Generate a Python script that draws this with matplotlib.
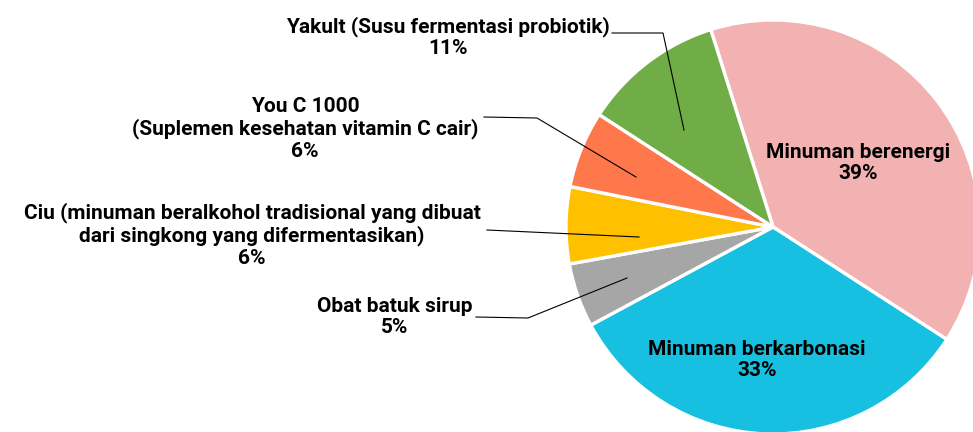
import matplotlib
matplotlib.use("Agg")
import matplotlib.pyplot as plt

plt.rcParams['font.family'] = ['Roboto', 'DejaVu Sans']

labels = ["Minuman berenergi", "Minuman berkarbonasi", "Obat batuk sirup",
          "Ciu (minuman beralkohol tradisional yang dibuat\ndari singkong yang difermentasikan)",
          "You C 1000\n(Suplemen kesehatan vitamin C cair)",
          "Yakult (Susu fermentasi probiotik)"]
values = [39, 33, 5, 6, 6, 11]
colors = ["#F2B2B2", "#17C0E0", "#A6A6A6", "#FFC000", "#FF784B", "#70AD47"]

W, H = 973, 432
fig = plt.figure(figsize=(W / 100, H / 100), dpi=100)
ax = fig.add_axes([0, 0, 1, 1])

# work in pixel coordinates, y measured from the top
def p(x, y):
    return (x, H - y)

ax.pie(values, colors=colors, startangle=107.5, counterclock=False,
       center=p(773, 227), radius=207,
       wedgeprops=dict(edgecolor="white", linewidth=2.4))
ax.set_xlim(0, W)
ax.set_ylim(0, H)
ax.set_aspect("auto")
ax.axis("off")

fs = 15
# labels inside the big slices
inside = {0: (858, 163), 1: (757, 360)}
for i, (x, y) in inside.items():
    ax.text(*p(x, y), f"{labels[i]}\n{values[i]}%", ha="center", va="center",
            fontsize=fs, fontweight="bold", linespacing=1.15)

# outside labels with leader lines
outside = {
    5: ((448, 37), [(612, 33), (663, 33), (684, 130)]),
    4: ((305, 129), [(484, 117), (537, 118), (636, 177)]),
    3: ((252, 235), [(487, 230), (639, 237)]),
    2: ((395, 317), [(476, 317), (528, 318), (627, 278)]),
}
for i, ((x, y), pts) in outside.items():
    ax.text(*p(x, y), f"{labels[i]}\n{values[i]}%", ha="center", va="center",
            fontsize=fs, fontweight="bold", linespacing=1.15)
    xs = [q[0] for q in pts]
    ys = [H - q[1] for q in pts]
    ax.plot(xs, ys, color="black", linewidth=0.8)

fig.savefig("out.png", dpi=100)
